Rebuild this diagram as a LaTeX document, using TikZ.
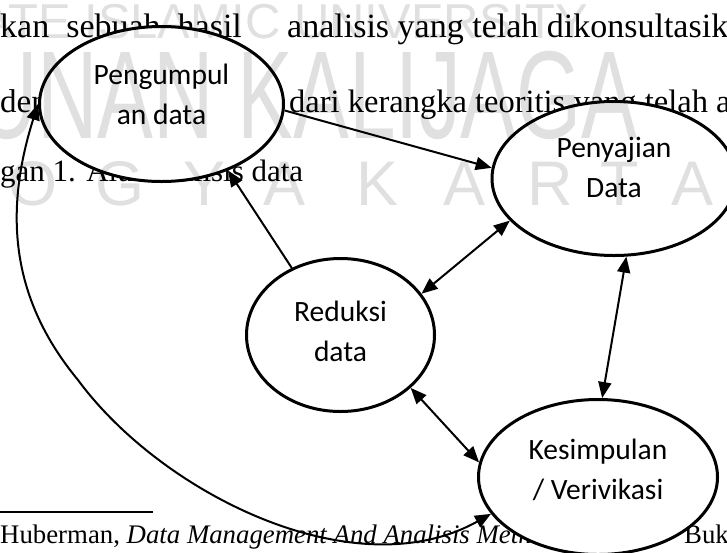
\documentclass[tikz,border=0pt]{standalone}
\usepackage{fontspec}
\setmainfont{Liberation Serif}
\newfontfamily\diagfont{Carlito}
\newfontfamily\wmfont{Liberation Sans}
\newfontfamily\wmnarrow[FakeStretch=0.67]{Liberation Sans}
\usetikzlibrary{shapes.geometric,arrows.meta}

\tikzset{
  stage/.style={draw,ellipse,line width=3pt,fill=white,inner sep=0pt},
  stagetext/.style={align=center,inner sep=0pt,font=\diagfont\fontsize{29.5}{40}\selectfont},
  link/.style={line width=2pt,-{Triangle[length=16pt,width=13pt]}},
  twoway/.style={line width=2pt,{Triangle[length=16pt,width=13pt]}-{Triangle[length=16pt,width=13pt]}},
  body/.style={anchor=base west,inner sep=0pt,font=\fontsize{33}{38}\selectfont},
  wmark/.style={anchor=base west,inner sep=0pt,text=black,text opacity=0.12}
}

\begin{document}
\begin{tikzpicture}[x=1pt,y=-1pt]
\clip (0,0) rectangle (727,552);
\fill[white] (0,0) rectangle (727,552);
% page text behind the diagram
\node[body,font=\fontsize{34}{38}\selectfont] (t1a) at (0,37) {kan \ sebuah \ hasil};
\node[body,font=\fontsize{34}{38}\selectfont] (t1b) at (287,37) {analisis yang telah dikonsultasikan};
\node[body] (t2a) at (0,112) {den};
\node[body,font=\fontsize{32.5}{38}\selectfont] (t2b) at (289,112) {dari kerangka teoritis yang telah ada};
\node[body,font=\fontsize{31}{36}\selectfont] (t3) at (0,181) {gan 1. Alur analisis data};
\draw[line width=2pt] (0,512) -- (153,512);
\node[body,font=\fontsize{26.8}{32}\selectfont] (fn) at (0,543) {Huberman, \textit{Data Management And Analisis Methods}};
\node[body,font=\fontsize{26.8}{32}\selectfont] (fn2) at (684,543) {Buku I};

% stages
\node[stage,minimum width=244pt,minimum height=155pt] (pg) at (161.5,104) {};
\node[stage,minimum width=244pt,minimum height=154pt] (pj) at (614,178.5) {};
\node[stage,minimum width=188pt,minimum height=153pt] (rd) at (340.5,335) {};
\node[stage,minimum width=239pt,minimum height=155pt] (ks) at (598,477) {};
\node[stagetext] (pgtext) at ([yshift=10pt]pg.center) {Pengumpul\\an data};
\node[stagetext] (pjtext) at ([yshift=11pt]pj.center) {Penyajian\\Data};
\node[stagetext] (rdtext) at ([yshift=4pt]rd.center) {Reduksi\\data};
\node[stagetext] (kstext) at ([yshift=7pt]ks.center) {Kesimpulan\\/ Verivikasi};

% arrows
\draw[link] (pg.-3) -- (pj.175);
\draw[link] (rd.126) -- (pg.-45);
\draw[twoway] (rd.27) -- (pj.202);
\draw[twoway] (pj.-81) -- (ks.87);
\draw[twoway] (rd.-37) -- (ks.173);
\coordinate (swing) at (78,380);
\draw[twoway] (pg.180) .. controls (3,215) and (12,300) .. (swing)
  .. controls (162,494) and (355,590) .. (ks.199);

% watermark over the page
\node[wmark,font=\wmfont\fontsize{49}{49}\selectfont] (wm1) at (-80,38) {STATE ISLAMIC UNIVERSITY};
\node[wmark,font=\wmnarrow\fontsize{125}{125}\selectfont] (wm2) at (-79,138) {SUNAN KALIJAGA};
\foreach \ch/\cx [count=\i] in {Y/-55,O/33,G/120,Y/205,A/285,K/378,A/465,R/550,T/620,A/692}
  \node[wmark,anchor=base,font=\wmfont\fontsize{63}{63}\selectfont] (wm3-\i) at (\cx,205) {\ch};
\end{tikzpicture}
\end{document}
